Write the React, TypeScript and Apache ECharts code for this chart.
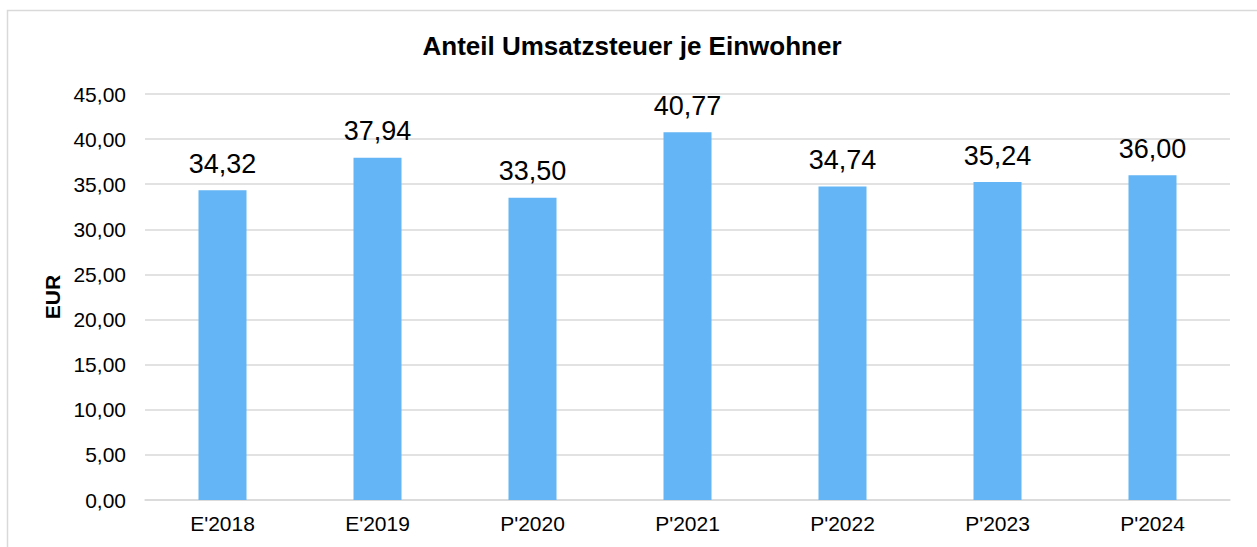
import React, { useEffect, useRef } from "react";
import * as echarts from "echarts";

const title = "Anteil Umsatzsteuer je Einwohner";
const categories = ["E'2018", "E'2019", "P'2020", "P'2021", "P'2022", "P'2023", "P'2024"];
const values = [34.32, 37.94, 33.5, 40.77, 34.74, 35.24, 36.0];
const yAxisName = "EUR";
const yMin = 0;
const yMax = 45;
const yInterval = 5;

const fmt = (v: number) => v.toFixed(2).replace(".", ",");

export default function App() {
  const ref = useRef<HTMLDivElement>(null);
  useEffect(() => {
    if (!ref.current) return;
    const chart = echarts.init(ref.current, null, { renderer: "svg" });
    const font = "'Liberation Sans', Arial, sans-serif";
    chart.setOption({
      animation: false,
      backgroundColor: "#ffffff",
      textStyle: { fontFamily: font },
      title: {
        text: title,
        left: 627,
        top: 28,
        textAlign: "center",
        textStyle: { fontFamily: font, fontSize: 26, fontWeight: "bold", color: "#000000" },
      },
      graphic: [
        {
          type: "rect",
          shape: { x: 7.5, y: 10.5, width: 1400, height: 700 },
          style: { fill: "none", stroke: "#d9d9d9", lineWidth: 1.5 },
          silent: true,
        },
      ],
      grid: { left: 145, right: 27, top: 94, bottom: 47, containLabel: false },
      xAxis: {
        type: "category",
        data: categories,
        axisLine: { show: true, lineStyle: { color: "#d9d9d9", width: 1.5 } },
        axisTick: { show: false },
        axisLabel: { color: "#000000", fontSize: 21, margin: 13, fontFamily: font },
      },
      yAxis: {
        type: "value",
        min: yMin,
        max: yMax,
        interval: yInterval,
        name: yAxisName,
        nameLocation: "middle",
        nameGap: 82,
        nameRotate: 90,
        nameTextStyle: { fontSize: 21, fontWeight: "bold", color: "#000000", fontFamily: font },
        axisLine: { show: false },
        axisTick: { show: false },
        axisLabel: {
          color: "#000000",
          fontSize: 21,
          margin: 19,
          fontFamily: font,
          formatter: (v: number) => fmt(v),
        },
        splitLine: { lineStyle: { color: "#d9d9d9", width: 1.5 } },
      },
      series: [
        {
          type: "bar",
          data: values,
          barWidth: 48,
          itemStyle: { color: "#63b5f5" },
          label: {
            show: true,
            position: "top",
            distance: 13,
            color: "#000000",
            fontSize: 27,
            fontFamily: font,
            formatter: (p: any) => fmt(p.value),
          },
        },
      ],
    });
    return () => chart.dispose();
  }, []);
  return (
    <div
      ref={ref}
      style={{ position: "fixed", left: 0, top: 0, width: 1257, height: 547 }}
    />
  );
}
